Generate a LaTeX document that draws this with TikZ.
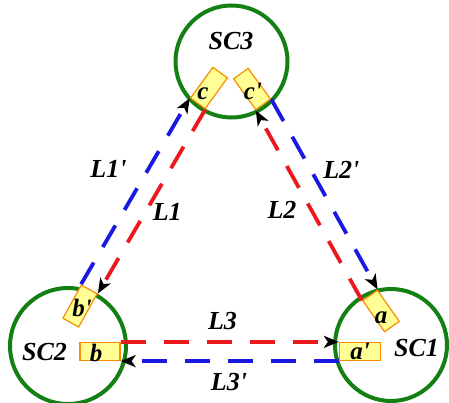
\documentclass[tikz,border=0pt]{standalone}
\usepackage{fontspec}
\setmainfont{Liberation Serif}
\usetikzlibrary{arrows.meta}

\definecolor{scgreen}{RGB}{20,128,20}
\definecolor{portfill}{RGB}{255,255,150}
\definecolor{portline}{RGB}{250,140,0}
\definecolor{linkred}{RGB}{235,25,30}
\definecolor{linkblue}{RGB}{25,25,225}

\begin{document}
\begin{tikzpicture}[x=1pt,y=-1pt,
  station/.style={draw=scgreen,line width=4pt,circle,minimum size=112pt,inner sep=0pt},
  port/.style={draw=portline,fill=portfill,line width=1.2pt,
    minimum width=38pt,minimum height=18pt,inner sep=0pt},
  tag/.style={font=\fontsize{25}{25}\selectfont\bfseries\itshape,inner sep=0pt,anchor=base},
  big/.style={font=\fontsize{26}{26}\selectfont\bfseries\itshape,inner sep=0pt,
    anchor=base,text=black},
  link/.style={line width=3.8pt,dash pattern=on 25pt off 18pt,
    -{Stealth[black,length=15pt,width=12pt,inset=4pt]}}
]
  \useasboundingbox (0,0) rectangle (449,403);

  % stations
  \node[station] (sc3) at (231.5,61.5) {};
  \node[station,minimum size=116pt] (sc2) at (68,346) {};
  \node[station] (sc1) at (391,345) {};
  \node[big] (sc3-name) at (231,50) {SC3};
  \node[big] (sc2-name) at (44.5,360) {SC2};
  \node[big] (sc1-name) at (416.5,356.5) {SC1};

  % ports
  \node[port,rotate=54] (pc) at (209,88) {};
  \node[port,rotate=-54] (pcp) at (252,89) {};
  \node[port,rotate=61] (pbp) at (80,306) {};
  \node[port,rotate=-55] (pa) at (381,311) {};
  \node[port,minimum width=40pt] (pb) at (100,351.5) {};
  \node[port,minimum width=41pt] (pap) at (360,351.5) {};

  % links
  \draw[link,linkred] (pc.south west) -- (pbp.south east)
    node[big,pos=0.601,xshift=26.5pt] (l1) {L1};
  \draw[link,linkblue] (pbp.north east) -- (pc.north west)
    node[big,pos=0.5725,xshift=-34.8pt] (l1p) {L1\textquotesingle};
  \draw[link,linkred] (pa.south west) -- (pcp.south east)
    node[big,pos=0.4327,xshift=-34pt] (l2) {L2};
  \draw[link,linkblue] (pcp.north east) -- (pa.north west)
    node[big,pos=0.418,xshift=25.6pt] (l2p) {L2\textquotesingle};
  \draw[link,linkred] (pb.north east) -- (pap.north west)
    node[big,midway,xshift=-7.25pt,yshift=12.5pt] (l3) {L3};
  \draw[link,linkblue] (pap.south west) -- (pb.south east)
    node[big,midway,xshift=-0.75pt,yshift=-29.5pt] (l3p) {L3\textquotesingle};

  % port names
  \node[tag] (pc-txt) at (203,100) {c};
  \node[tag] (pcp-txt) at (253,100) {c\textquotesingle};
  \node[tag] (pbp-txt) at (82,316.5) {b\textquotesingle};
  \node[tag] (pb-txt) at (96,361.5) {b};
  \node[tag] (pa-txt) at (381,323) {a};
  \node[tag] (pap-txt) at (360,359) {a\textquotesingle};
\end{tikzpicture}
\end{document}
